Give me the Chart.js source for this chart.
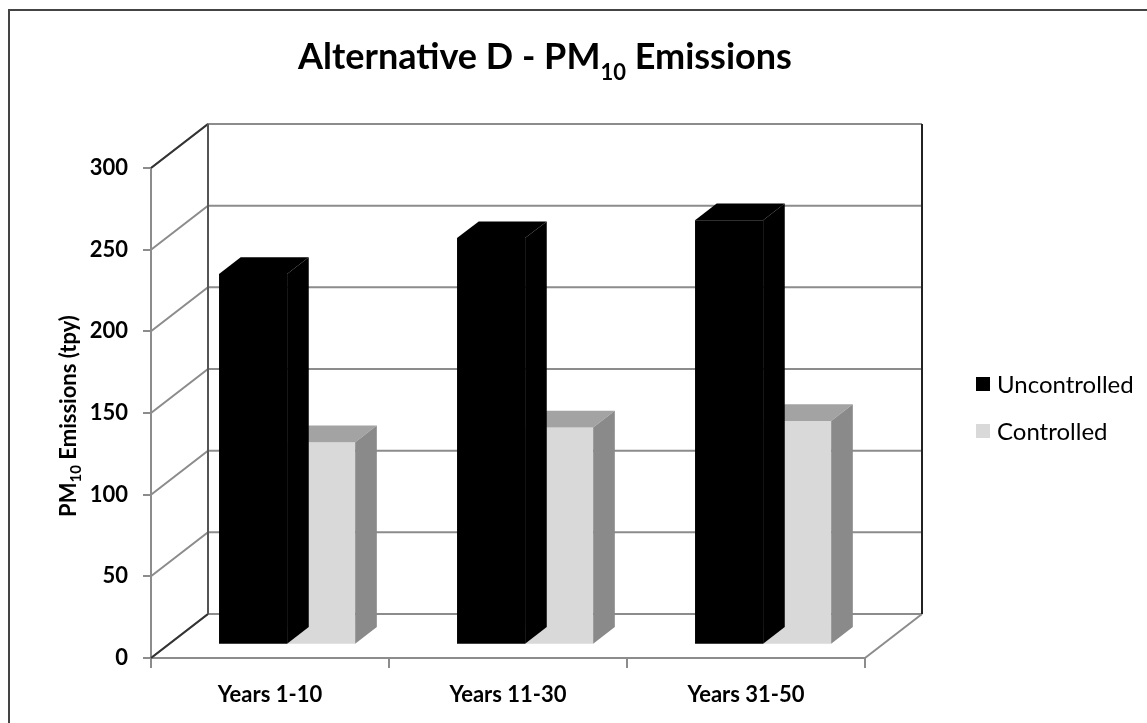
<!DOCTYPE html>
<html>
<head>
<meta charset="utf-8">
<script src="https://cdn.jsdelivr.net/npm/chart.js@4.4.0/dist/chart.umd.min.js"></script>
<style>
  body { margin: 0; background: #fff; }
  #wrap { position: relative; width: 1147px; height: 723px; overflow: hidden; font-family: Lato, sans-serif; color: #000; }
  #frame { position: absolute; left: 8px; top: 9px; right: -10px; bottom: -10px; border-left: 2px solid #444; border-top: 2px solid #444; }
  canvas { position: absolute; left: 0; top: 0; }
  #title { position: absolute; left: 0; width: 1090px; top: 35px; text-align: center; font-weight: bold; font-size: 36px; line-height: 40px; white-space: nowrap; }
  #title sub { font-size: 22px; vertical-align: baseline; position: relative; top: 11px; }
  #ytitle { position: absolute; left: 67px; top: 416px; transform: translate(-50%, -50%) rotate(-90deg); font-weight: bold; font-size: 22px; white-space: nowrap; }
  #ytitle sub { font-size: 15px; vertical-align: baseline; position: relative; top: 5px; }
  #legend { position: absolute; left: 976px; top: 360px; font-size: 24px; }
  #legend .row { display: flex; align-items: center; height: 47px; white-space: nowrap; }
  #legend .sw { width: 14px; height: 14px; margin-right: 7px; }
</style>
</head>
<body>
<div id="wrap">
  <canvas id="chart" width="1147" height="723"></canvas>
  <div id="frame"></div>
  <div id="title">Alternative D - PM<sub>10</sub> Emissions</div>
  <div id="ytitle">PM<sub>10</sub> Emissions (tpy)</div>
  <div id="legend"></div>
</div>
<script>
const categories = ['Years 1-10', 'Years 11-30', 'Years 31-50'];
const uncontrolled = [227, 249, 260];
const controlled = [124, 133, 137];
const yTicks = [0, 50, 100, 150, 200, 250, 300];

// depth of the 3d box (offset of the back wall) and where the bars sit in it
const DX = 57, DY = -44;
const BAR_Z = 0.3, BAR_D = 0.38;
const LINE = '#8c8c8c';

function poly(ctx, pts) {
  ctx.beginPath();
  ctx.moveTo(pts[0][0], pts[0][1]);
  for (let i = 1; i < pts.length; i++) ctx.lineTo(pts[i][0], pts[i][1]);
  ctx.closePath();
  ctx.fill();
}

function seg(ctx, x1, y1, x2, y2, color) {
  ctx.strokeStyle = color;
  ctx.beginPath();
  ctx.moveTo(x1, y1);
  ctx.lineTo(x2, y2);
  ctx.stroke();
}

const box3d = {
  id: 'box3d',
  beforeDatasetsDraw(chart) {
    const ctx = chart.ctx, a = chart.chartArea, y = chart.scales.y;
    ctx.save();
    ctx.lineWidth = 2;
    // gridlines on the left wall and the back wall
    y.ticks.forEach(t => {
      const py = y.getPixelForValue(t.value);
      ctx.strokeStyle = LINE;
      ctx.beginPath();
      ctx.moveTo(a.left, py);
      ctx.lineTo(a.left + DX, py + DY);
      ctx.lineTo(a.right + DX, py + DY);
      ctx.stroke();
    });
    seg(ctx, a.right, a.bottom, a.right + DX, a.bottom + DY, LINE);
    seg(ctx, a.left, a.top, a.left + DX, a.top + DY, '#333');
    seg(ctx, a.left, a.bottom, a.left + DX, a.bottom + DY, '#333');
    seg(ctx, a.left + DX, a.top + DY, a.left + DX, a.bottom + DY, '#555');
    seg(ctx, a.right + DX, a.top + DY, a.right + DX, a.bottom + DY, '#222');
    ctx.restore();
    // bars stand a bit inside the box
    ctx.save();
    ctx.translate(DX * BAR_Z, DY * BAR_Z);
  },
  afterDatasetDraw(chart, args) {
    const ctx = chart.ctx;
    const ds = chart.data.datasets[args.index];
    const sx = DX * BAR_D, sy = DY * BAR_D;
    args.meta.data.forEach(bar => {
      const l = bar.x - bar.width / 2, r = bar.x + bar.width / 2, t = bar.y, b = bar.base;
      ctx.fillStyle = ds.topColor;
      poly(ctx, [[l, t], [r, t], [r + sx, t + sy], [l + sx, t + sy]]);
      ctx.fillStyle = ds.sideColor;
      poly(ctx, [[r, t], [r + sx, t + sy], [r + sx, b + sy], [r, b]]);
    });
  },
  afterDatasetsDraw(chart) {
    chart.ctx.restore();
  }
};

const tickFont = { family: 'Lato', size: 22, weight: 'bold' };

const chart = new Chart(document.getElementById('chart'), {
  type: 'bar',
  data: {
    labels: categories,
    datasets: [
      { label: 'Uncontrolled', data: uncontrolled, backgroundColor: '#000', topColor: '#000', sideColor: '#000', clip: false },
      { label: 'Controlled', data: controlled, backgroundColor: '#d9d9d9', topColor: '#a3a3a3', sideColor: '#8a8a8a', clip: false }
    ]
  },
  options: {
    responsive: false,
    animation: false,
    layout: { padding: { left: 0, top: 168, right: 282, bottom: 0 } },
    datasets: { bar: { categoryPercentage: 0.572, barPercentage: 1, borderWidth: 0 } },
    plugins: { legend: { display: false }, title: { display: false }, tooltip: { enabled: false } },
    scales: {
      x: {
        grid: { offset: true, drawOnChartArea: false, tickLength: 10, color: LINE, lineWidth: 2 },
        border: { color: LINE, width: 2 },
        ticks: { font: tickFont, color: '#000', padding: 14, maxRotation: 0 },
        afterFit(s) { s.height = 65; }
      },
      y: {
        min: yTicks[0],
        max: yTicks[yTicks.length - 1],
        grid: { drawOnChartArea: false, tickLength: 8, color: LINE, lineWidth: 2 },
        border: { color: LINE, width: 2 },
        ticks: { stepSize: yTicks[1] - yTicks[0], font: tickFont, color: '#000', padding: 15 },
        afterFit(s) { s.width = 151; }
      }
    }
  },
  plugins: [box3d]
});

// legend built from the chart's datasets
const legend = document.getElementById('legend');
chart.data.datasets.forEach(ds => {
  const row = document.createElement('div');
  row.className = 'row';
  const sw = document.createElement('span');
  sw.className = 'sw';
  sw.style.background = ds.backgroundColor;
  row.appendChild(sw);
  row.appendChild(document.createTextNode(ds.label));
  legend.appendChild(row);
});
</script>
</body>
</html>
